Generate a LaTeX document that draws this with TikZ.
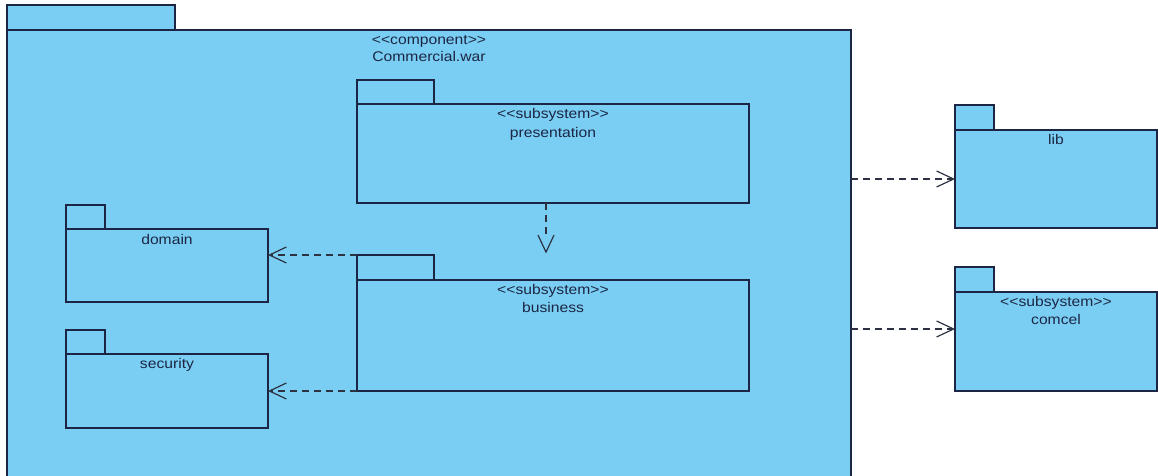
\documentclass[tikz,border=0pt]{standalone}
\usepackage{fontspec}
\newfontfamily\umlfont[FakeStretch=1.12]{Liberation Sans}
\usetikzlibrary{arrows.meta}
\definecolor{pkgfill}{RGB}{122,206,243}
\definecolor{pkgline}{RGB}{28,38,68}
\definecolor{deparrow}{RGB}{45,50,66}
\begin{document}
\begin{tikzpicture}[x=1pt,y=-1pt,
  pkgbody/.style={draw=pkgline,fill=pkgfill,line width=1.2pt,inner sep=0pt,outer sep=0pt,anchor=north west},
  pkgtab/.style={draw=pkgline,fill=pkgfill,line width=1.2pt,inner sep=0pt,outer sep=0pt,anchor=south west},
  pkgtext/.style={text=pkgline,font=\umlfont\fontsize{14}{16}\selectfont,inner sep=0pt,anchor=base},
  dep/.style={draw=deparrow,line width=1.2pt,dash pattern=on 7pt off 5pt,
    -{Straight Barb[length=17pt,width=16pt,line width=1.2pt]}}]
\useasboundingbox (0,0) rectangle (1158,476);

% enclosing component package
\node[pkgbody,minimum width=844pt,minimum height=452pt] (outer) at (7,30) {};
\node[pkgtab,minimum width=168pt,minimum height=25pt] (outer-tab) at (outer.north west) {};
\node[pkgtext] (outer-st) at (429,45) {<<component>>};
\node[pkgtext] (outer-nm) at (429,62) {Commercial.war};

% presentation
\node[pkgbody,minimum width=392pt,minimum height=99pt] (pres) at (357,104) {};
\node[pkgtab,minimum width=77pt,minimum height=24pt] (pres-tab) at (pres.north west) {};
\node[pkgtext] (pres-st) at (553,119) {<<subsystem>>};
\node[pkgtext] (pres-nm) at (553,137) {presentation};

% business
\node[pkgbody,minimum width=392pt,minimum height=111pt] (bus) at (357,280) {};
\node[pkgtab,minimum width=77pt,minimum height=25pt] (bus-tab) at (bus.north west) {};
\node[pkgtext] (bus-st) at (553,294) {<<subsystem>>};
\node[pkgtext] (bus-nm) at (553,312) {business};

% domain
\node[pkgbody,minimum width=202pt,minimum height=73pt] (dom) at (66,229) {};
\node[pkgtab,minimum width=39pt,minimum height=24pt] (dom-tab) at (dom.north west) {};
\node[pkgtext] (dom-nm) at (167,244) {domain};

% security
\node[pkgbody,minimum width=202pt,minimum height=74pt] (sec) at (66,354) {};
\node[pkgtab,minimum width=39pt,minimum height=24pt] (sec-tab) at (sec.north west) {};
\node[pkgtext] (sec-nm) at (167,368) {security};

% lib
\node[pkgbody,minimum width=202pt,minimum height=98pt] (lib) at (955,130) {};
\node[pkgtab,minimum width=39pt,minimum height=25pt] (lib-tab) at (lib.north west) {};
\node[pkgtext] (lib-nm) at (1056,144) {lib};

% comcel
\node[pkgbody,minimum width=202pt,minimum height=99pt] (com) at (955,292) {};
\node[pkgtab,minimum width=39pt,minimum height=25pt] (com-tab) at (com.north west) {};
\node[pkgtext] (com-st) at (1056,306) {<<subsystem>>};
\node[pkgtext] (com-nm) at (1056,324) {comcel};

% dependencies
\draw[dep,dash pattern=on 7pt off 5pt on 7pt off 5pt on 7pt off 40pt] ([xshift=-7pt]pres.south) -- ([xshift=-7pt,yshift=1.5pt]pres.south |- bus-tab.north);
\draw[dep] (bus-tab.north west) -- (bus-tab.north west -| dom.east);
\draw[dep] (bus.south west) -- (bus.south west -| sec.east);
\draw[dep] (lib.west -| outer.east) -- (lib.west);
\draw[dep] ([yshift=12.5pt]com.west -| outer.east) -- ([yshift=12.5pt]com.west);
\end{tikzpicture}
\end{document}
